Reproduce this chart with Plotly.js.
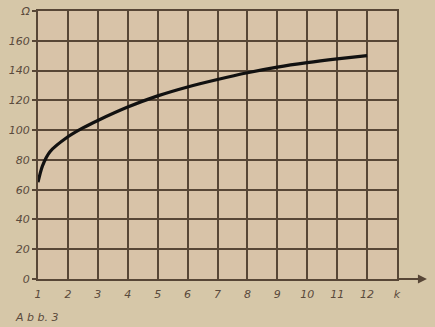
<!DOCTYPE html>
<html><head><meta charset="utf-8">
<script src="https://cdn.plot.ly/plotly-3.0.1.min.js"></script>
<style>html,body{margin:0;padding:0;background:#d6c7a8;}#c{width:435px;height:327px;}</style>
</head><body><div id="c"></div>
<script>
const kValues = [1, 1.15, 1.4, 2, 2.5, 3, 4, 5, 6, 7, 8, 9, 10, 11, 12];
const ohmValues = [65, 76, 85.5, 95.5, 101.5, 106.5, 115.5, 123, 129, 134, 138.5, 142.3, 145.3, 147.8, 150];
const xTickVals = [1,2,3,4,5,6,7,8,9,10,11,12,13];
const xTickText = ['1','2','3','4','5','6','7','8','9','10','11','12','k'];
const yTickVals = [0,20,40,60,80,100,120,140,160,180];
const yTickText = ['0','20','40','60','80','100','120','140','160','Ω'];

const grid = '#574636';
const txt = '#5a4a3c';
const tf = {family: 'DejaVu Sans', size: 11, color: txt, style: 'italic'};

Plotly.newPlot('c', [{
  x: kValues, y: ohmValues, mode: 'lines',
  line: {color: '#111', width: 3.2, shape: 'spline', smoothing: 0.8},
  hoverinfo: 'skip'
}], {
  width: 435, height: 327,
  margin: {l: 38, r: 38, t: 11, b: 48},
  paper_bgcolor: '#d6c7a8',
  plot_bgcolor: '#d8c3a8',
  showlegend: false,
  xaxis: {
    range: [1, 13], tickvals: xTickVals, ticktext: xTickText,
    showgrid: true, gridcolor: grid, gridwidth: 2,
    showline: true, linecolor: grid, linewidth: 2, mirror: true,
    zeroline: false, ticks: '', tickfont: tf, ticklabelstandoff: 4
  },
  yaxis: {
    range: [0, 180], tickvals: yTickVals, ticktext: yTickText,
    showgrid: true, gridcolor: grid, gridwidth: 2,
    showline: true, linecolor: grid, linewidth: 2, mirror: true,
    zeroline: false, ticks: 'outside', ticklen: 4, tickcolor: grid, tickwidth: 2,
    tickfont: tf
  },
  annotations: [
    {xref: 'x', yref: 'y', x: 14, y: 0, axref: 'x', ayref: 'y', ax: 13, ay: 0,
     showarrow: true, arrowhead: 2, arrowsize: 1, arrowwidth: 1.8, arrowcolor: grid, text: ''},
    {xref: 'paper', yref: 'paper', x: -0.07, y: -0.145, xanchor: 'left', yanchor: 'middle',
     text: 'A b b. 3', showarrow: false,
     font: {family: 'DejaVu Sans', size: 11, color: txt, style: 'italic'}}
  ]
}, {staticPlot: true});
</script></body></html>
